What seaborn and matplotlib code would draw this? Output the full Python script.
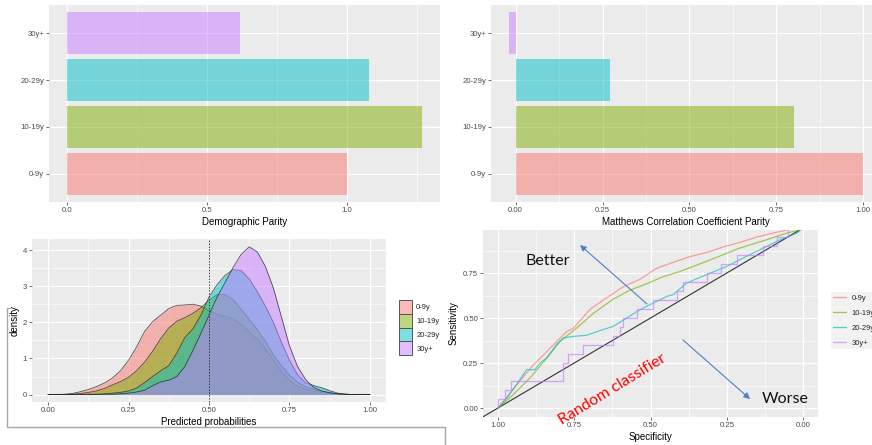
import numpy as np
import pandas as pd
import matplotlib
matplotlib.use("Agg")
import matplotlib.pyplot as plt
import seaborn as sns
from matplotlib.patches import Patch, FancyArrowPatch
from matplotlib.lines import Line2D
from matplotlib.colors import to_rgba

# ---------------- data ----------------
groups = ["0-9y", "10-19y", "20-29y", "30y+"]
colors = ["#F8766D", "#7CAE00", "#00BFC4", "#C77CFF"]

demographic_parity = [1.00, 1.27, 1.08, 0.62]
mcc_parity = [1.00, 0.80, 0.27, -0.02]

dens_x = [0.000, 0.025, 0.050, 0.075, 0.100, 0.125, 0.150, 0.175, 0.200, 0.225,
          0.250, 0.275, 0.300, 0.325, 0.350, 0.375, 0.400, 0.425, 0.450, 0.475,
          0.500, 0.525, 0.550, 0.575, 0.600, 0.625, 0.650, 0.675, 0.700, 0.725,
          0.750, 0.775, 0.800, 0.825, 0.850, 0.875, 0.900, 0.925, 0.950, 0.975, 1.000]
dens_0_9 = [0.00, 0.00, 0.01, 0.03, 0.08, 0.14, 0.22, 0.32, 0.46, 0.66,
            0.95, 1.32, 1.75, 2.02, 2.20, 2.38, 2.47, 2.48, 2.50, 2.45,
            2.32, 2.22, 2.16, 2.10, 1.93, 1.74, 1.53, 1.27, 0.96, 0.64,
            0.40, 0.23, 0.15, 0.10, 0.05, 0.03, 0.01, 0.00, 0.00, 0.00, 0.00]
dens_10_19 = [0.00, 0.00, 0.00, 0.01, 0.03, 0.06, 0.10, 0.17, 0.27, 0.36,
              0.48, 0.66, 0.90, 1.20, 1.55, 1.84, 2.03, 2.13, 2.25, 2.40,
              2.62, 2.76, 2.77, 2.62, 2.36, 2.08, 1.80, 1.48, 1.10, 0.80,
              0.54, 0.34, 0.22, 0.15, 0.09, 0.05, 0.02, 0.01, 0.00, 0.00, 0.00]
dens_20_29 = [0.00, 0.00, 0.00, 0.00, 0.00, 0.01, 0.01, 0.02, 0.04, 0.06,
              0.10, 0.18, 0.33, 0.50, 0.66, 0.80, 1.15, 1.58, 1.82, 2.20,
              2.70, 3.04, 3.30, 3.46, 3.43, 3.20, 2.85, 2.45, 2.00, 1.45,
              0.95, 0.55, 0.33, 0.25, 0.19, 0.11, 0.04, 0.01, 0.00, 0.00, 0.00]
dens_30 = [0.00, 0.00, 0.00, 0.00, 0.00, 0.00, 0.00, 0.01, 0.01, 0.02,
           0.04, 0.07, 0.12, 0.25, 0.35, 0.40, 0.50, 0.78, 1.22, 1.70,
           2.20, 2.70, 3.10, 3.52, 3.88, 4.09, 3.95, 3.55, 2.95, 2.15,
           1.35, 0.78, 0.42, 0.20, 0.10, 0.05, 0.02, 0.01, 0.00, 0.00, 0.00]

roc_0_9_spec = [1.000, 0.939, 0.884, 0.830, 0.775, 0.753, 0.698, 0.644, 0.589, 0.535,
                0.480, 0.425, 0.371, 0.316, 0.262, 0.207, 0.152, 0.098, 0.050, 0.000]
roc_0_9_sens = [0.000, 0.128, 0.239, 0.330, 0.424, 0.443, 0.548, 0.612, 0.674, 0.715,
                0.776, 0.810, 0.841, 0.864, 0.895, 0.920, 0.950, 0.972, 0.990, 1.000]
roc_10_19_spec = [1.000, 0.950, 0.895, 0.840, 0.797, 0.742, 0.688, 0.622, 0.567, 0.513,
                  0.458, 0.403, 0.316, 0.207, 0.119, 0.053, 0.020, 0.000]
roc_10_19_sens = [0.000, 0.074, 0.167, 0.278, 0.370, 0.444, 0.525, 0.605, 0.655, 0.690,
                  0.730, 0.759, 0.815, 0.889, 0.935, 0.972, 0.985, 1.000]
roc_20_29_spec = [1.000, 0.970, 0.939, 0.917, 0.906, 0.879, 0.862, 0.840, 0.808, 0.786,
                  0.753, 0.710, 0.666, 0.622, 0.578, 0.535, 0.491, 0.447, 0.425, 0.382,
                  0.316, 0.250, 0.185, 0.119, 0.075, 0.020, 0.000]
roc_20_29_sens = [0.000, 0.056, 0.130, 0.185, 0.213, 0.213, 0.250, 0.278, 0.352, 0.389,
                  0.398, 0.404, 0.430, 0.454, 0.500, 0.546, 0.583, 0.620, 0.630, 0.694,
                  0.741, 0.787, 0.843, 0.898, 0.935, 0.972, 1.000]
roc_30_spec = [1.000, 0.977, 0.958, 0.788, 0.770, 0.720, 0.622, 0.600, 0.589, 0.545,
               0.491, 0.414, 0.392, 0.316, 0.270, 0.217, 0.130, 0.086, 0.050, 0.000]
roc_30_sens = [0.00, 0.05, 0.10, 0.15, 0.25, 0.30, 0.35, 0.40, 0.45, 0.50,
               0.55, 0.60, 0.65, 0.70, 0.75, 0.80, 0.85, 0.90, 0.95, 1.00]

# ---------------- style ----------------
sns.set_theme(style="darkgrid", rc={
    "axes.facecolor": "#EBEBEB",
    "grid.color": "white",
    "axes.edgecolor": "none",
    "xtick.color": "#333333",
    "ytick.color": "#333333",
    "xtick.labelcolor": "#4D4D4D",
    "ytick.labelcolor": "#4D4D4D",
    "xtick.bottom": True,
    "ytick.left": True,
    "xtick.major.size": 2,
    "ytick.major.size": 2,
    "xtick.major.width": 0.5,
    "ytick.major.width": 0.5,
    "xtick.major.pad": 1.5,
    "ytick.major.pad": 1.5,
    "xtick.labelsize": 5.6,
    "ytick.labelsize": 5.6,
    "axes.labelsize": 7,
    "axes.labelcolor": "black",
})
plt.rcParams["font.family"] = ["Liberation Sans", "DejaVu Sans"]

W, H = 872, 445
fig = plt.figure(figsize=(W / 100, H / 100), dpi=100)


def add_ax(l, t, r, b):
    return fig.add_axes([l / W, 1 - b / H, (r - l) / W, (b - t) / H])


def fx(x):
    return x / W


def fy(y):
    return 1 - y / H


def style_grid(ax, xminor=None, yminor=None):
    ax.grid(which="major", color="white", lw=0.9)
    if xminor is not None:
        ax.set_xticks(xminor, minor=True)
        ax.xaxis.grid(True, which="minor", color="white", lw=0.45)
    if yminor is not None:
        ax.set_yticks(yminor, minor=True)
        ax.yaxis.grid(True, which="minor", color="white", lw=0.45)
    ax.tick_params(which="minor", length=0)
    ax.set_axisbelow(True)
    for s in ax.spines.values():
        s.set_visible(False)


palette = dict(zip(groups, colors))
order_top = groups[::-1]

# ---------------- top-left: demographic parity ----------------
ax1 = add_ax(49, 5, 440, 202)
df1 = pd.DataFrame({"group": groups, "value": demographic_parity})
sns.barplot(data=df1, y="group", x="value", hue="group", order=order_top,
            hue_order=groups, palette=palette, alpha=0.5, width=0.9,
            saturation=1, linewidth=0, legend=False, ax=ax1)
ax1.set_xlim(-0.0635, 1.3335)
ax1.set_ylim(3.6, -0.6)
ax1.set_xticks([0, 0.5, 1.0], ["0.0", "0.5", "1.0"])
style_grid(ax1, xminor=[0.25, 0.75, 1.25])
ax1.yaxis.grid(True, which="major", color="white", lw=0.9)
ax1.set_xlabel("Demographic Parity", labelpad=2)
ax1.set_ylabel("")

# ---------------- top-right: MCC parity ----------------
ax2 = add_ax(491, 5, 881, 202)
df2 = pd.DataFrame({"group": groups, "value": mcc_parity})
sns.barplot(data=df2, y="group", x="value", hue="group", order=order_top,
            hue_order=groups, palette=palette, alpha=0.5, width=0.9,
            saturation=1, linewidth=0, legend=False, ax=ax2)
ax2.set_xlim(-0.071, 1.051)
ax2.set_ylim(3.6, -0.6)
ax2.set_xticks([0, 0.25, 0.5, 0.75, 1.0], ["0.00", "0.25", "0.50", "0.75", "1.00"])
style_grid(ax2, xminor=[0.125, 0.375, 0.625, 0.875])
ax2.yaxis.grid(True, which="major", color="white", lw=0.9)
ax2.set_xlabel("Matthews Correlation Coefficient Parity", labelpad=2)
ax2.set_ylabel("")

# ---------------- bottom-left: density ----------------
ax3 = add_ax(32, 239, 386, 402)
dens_series = [dens_0_9, dens_10_19, dens_20_29, dens_30]
for i, (vals, c) in enumerate(zip(dens_series, colors)):
    ax3.fill_between(dens_x, vals, 0, color=c, alpha=0.5, lw=0, zorder=2 + i)
    ax3.plot(dens_x, vals, color="#222222", lw=0.6, alpha=0.75, zorder=2 + i)
ax3.axvline(0.5, color="#333333", lw=0.7, ls=(0, (1.5, 1.5)), zorder=10)
ax3.set_xlim(-0.05, 1.05)
ax3.set_ylim(-0.205, 4.305)
ax3.set_xticks([0, 0.25, 0.5, 0.75, 1.0], ["0.00", "0.25", "0.50", "0.75", "1.00"])
ax3.set_yticks([0, 1, 2, 3, 4], ["0", "1", "2", "3", "4"])
style_grid(ax3, xminor=[0.125, 0.375, 0.625, 0.875], yminor=[0.5, 1.5, 2.5, 3.5])
ax3.set_xlabel("Predicted probabilities", labelpad=2)
ax3.set_ylabel("density", labelpad=2)

h3 = [Patch(facecolor=to_rgba(c, 0.5), edgecolor="#555555", lw=0.7) for c in colors]
fig.legend(h3, groups, loc="upper left", bbox_to_anchor=(fx(399), fy(300)),
           frameon=False, fontsize=5.5, handlelength=1.75, handleheight=2.4,
           labelspacing=0.0, handletextpad=0.5, borderpad=0, borderaxespad=0)

# ---------------- bottom-right: ROC ----------------
ax4 = add_ax(483, 230, 818, 417)
roc = [(roc_0_9_spec, roc_0_9_sens), (roc_10_19_spec, roc_10_19_sens),
       (roc_20_29_spec, roc_20_29_sens), (roc_30_spec, roc_30_sens)]
for i, ((sp, se), c) in enumerate(zip(roc, colors)):
    kw = {"drawstyle": "steps-pre"} if i == 3 else {}
    sns.lineplot(x=sp, y=se, sort=False, estimator=None, color=c, alpha=0.65,
                 lw=0.9, ax=ax4, **kw)
ax4.axline((1, 0), (0, 1), color="#333333", lw=0.8, zorder=1.5)
ax4.set_xlim(1.049, -0.049)
ax4.set_ylim(-0.05, 0.989)
ax4.set_xticks([1, 0.75, 0.5, 0.25, 0], ["1.00", "0.75", "0.50", "0.25", "0.00"])
ax4.set_yticks([0, 0.25, 0.5, 0.75], ["0.00", "0.25", "0.50", "0.75"])
style_grid(ax4, xminor=[0.875, 0.625, 0.375, 0.125], yminor=[0.125, 0.375, 0.625, 0.875])
ax4.set_xlabel("Specificity", labelpad=2)
ax4.set_ylabel("Sensitivity", labelpad=3)

h4 = [Line2D([], [], color=c, alpha=0.65, lw=1) for c in colors]
fig.legend(h4, groups, loc="upper left", bbox_to_anchor=(fx(831), fy(292)),
           frameon=True, facecolor="#F2F2F2", edgecolor="none", framealpha=1,
           fontsize=5.5, handlelength=1.6, labelspacing=1.0, handletextpad=0.8,
           borderpad=0.3, borderaxespad=0, fancybox=False)

# ---------------- overlay annotations ----------------
ann_font = ["Lato", "DejaVu Sans"]
fig.text(fx(548), fy(261), "Better", fontsize=11.5, family=ann_font,
         ha="center", va="center", color="#111111")
fig.text(fx(785), fy(399), "Worse", fontsize=11.5, family=ann_font,
         ha="center", va="center", color="#111111")
fig.text(fx(612), fy(389), "Random classifier", fontsize=11.5, family=ann_font,
         ha="center", va="center", color="#FF0000", rotation=31.5,
         rotation_mode="anchor")
for (x0, y0), (x1, y1) in [((647, 304), (580, 245)), ((683, 340), (750, 399))]:
    fig.add_artist(FancyArrowPatch((fx(x0), fy(y0)), (fx(x1), fy(y1)),
                                   transform=fig.transFigure, arrowstyle="-|>",
                                   mutation_scale=9, color="#4F7FC9", lw=0.8,
                                   shrinkA=0, shrinkB=0))

# screenshot bracket lines
bx = [10, 7, 7, 445, 445]
by = [308, 308, 427, 427, 445]
fig.add_artist(Line2D([fx(v) for v in bx], [fy(v) for v in by],
                      transform=fig.transFigure, color="#A8A8A8", lw=1))

fig.savefig("out.png", dpi=100)
